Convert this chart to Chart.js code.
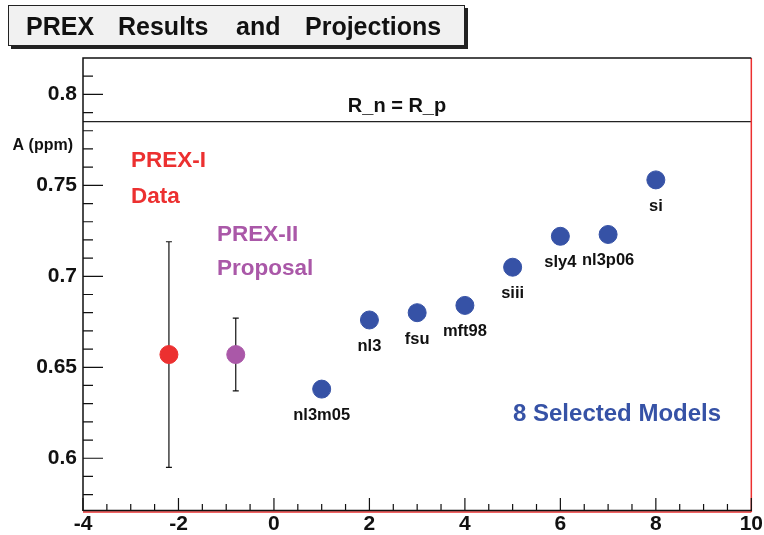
<!DOCTYPE html>
<html>
<head>
<meta charset="utf-8">
<script src="https://cdn.jsdelivr.net/npm/chart.js@4/dist/chart.umd.min.js"></script>
<style>
  html, body { margin: 0; padding: 0; background: #fff; }
  #wrap { width: 764px; height: 535px; }
</style>
</head>
<body>
<div id="wrap"><canvas id="prex-chart" width="764" height="535"></canvas></div>
<script>
// values
var modelNames = ['nl3m05', 'nl3', 'fsu', 'mft98', 'siii', 'sly4', 'nl3p06', 'si'];
var modelX = [1, 2, 3, 4, 5, 6, 7, 8];
var modelA = [0.638, 0.676, 0.680, 0.684, 0.705, 0.722, 0.723, 0.753];

var prex1X = [-2.2];
var prex1A = [0.657];
var prex1Err = [0.062];

var prex2X = [-0.8];
var prex2A = [0.657];
var prex2Err = [0.020];

var rnRp = 0.785;

var xTicks = [-4, -2, 0, 2, 4, 6, 8, 10];
var xTickLabels = ['-4', '-2', '0', '2', '4', '6', '8', '10'];
var yTicks = [0.6, 0.65, 0.7, 0.75, 0.8];
var yTickLabels = ['0.6', '0.65', '0.7', '0.75', '0.8'];

var RED = '#ec3030';
var PURPLE = '#aa58a8';
var BLUE = '#3652a6';
var FONT = '"Liberation Sans", Arial, sans-serif';

function pts(xs, ys) {
    return xs.map(function (x, i) { return { x: x, y: ys[i] }; });
}

// ROOT-like frame, inner ticks, error bars and texts
var rootStyle = {
    id: 'rootStyle',
    beforeDatasetsDraw: function (chart) {
        var c = chart.ctx, xs = chart.scales.x, ys = chart.scales.y;
        c.save();
        c.strokeStyle = '#111';
        c.lineWidth = 1.2;
        [[prex1X, prex1A, prex1Err], [prex2X, prex2A, prex2Err]].forEach(function (s) {
            s[0].forEach(function (x, i) {
                var px = xs.getPixelForValue(x);
                var top = ys.getPixelForValue(s[1][i] + s[2][i]);
                var bot = ys.getPixelForValue(s[1][i] - s[2][i]);
                c.beginPath();
                c.moveTo(px, top); c.lineTo(px, bot);
                c.moveTo(px - 3, top); c.lineTo(px + 3, top);
                c.moveTo(px - 3, bot); c.lineTo(px + 3, bot);
                c.stroke();
            });
        });
        c.restore();
    },
    afterDraw: function (chart) {
        var c = chart.ctx, a = chart.chartArea, xs = chart.scales.x, ys = chart.scales.y;
        c.save();

        // frame
        c.lineWidth = 1.5;
        c.strokeStyle = RED;
        c.beginPath();
        c.moveTo(a.right, a.top); c.lineTo(a.right, a.bottom + 1);
        c.moveTo(a.left, a.bottom + 1); c.lineTo(a.right, a.bottom + 1);
        c.stroke();
        c.strokeStyle = '#111';
        c.beginPath();
        c.moveTo(a.left, a.bottom); c.lineTo(a.left, a.top); c.lineTo(a.right, a.top);
        c.moveTo(a.left, a.bottom - 0.5); c.lineTo(a.right, a.bottom - 0.5);
        c.stroke();

        // inner ticks
        c.lineWidth = 1.2;
        c.beginPath();
        for (var v = -4; v <= 10.001; v += 0.5) {
            var px = xs.getPixelForValue(v);
            var major = Math.abs(v / 2 - Math.round(v / 2)) < 1e-6;
            c.moveTo(px, a.bottom);
            c.lineTo(px, a.bottom - (major ? 13 : 7));
        }
        for (var k = 58; k <= 81; k++) {
            var py = ys.getPixelForValue(k / 100);
            var maj = k % 5 === 0;
            c.moveTo(a.left, py);
            c.lineTo(a.left + (maj ? 20 : 10), py);
        }
        c.stroke();

        // texts
        c.textBaseline = 'alphabetic';
        c.fillStyle = '#111';
        c.font = 'bold 16px ' + FONT;
        c.textAlign = 'right';
        c.fillText('A (ppm)', 73, 150);

        c.textAlign = 'center';
        c.font = 'bold 20px ' + FONT;
        c.fillText('R_n = R_p', 397, 112);

        c.font = 'bold 16.5px ' + FONT;
        modelNames.forEach(function (n, i) {
            c.fillText(n, xs.getPixelForValue(modelX[i]), ys.getPixelForValue(modelA[i]) + 31);
        });

        c.textAlign = 'left';
        c.font = 'bold 22.5px ' + FONT;
        c.fillStyle = RED;
        c.fillText('PREX-I', 131, 167);
        c.fillText('Data', 131, 203);
        c.fillStyle = PURPLE;
        c.fillText('PREX-II', 217, 241);
        c.fillText('Proposal', 217, 275);
        c.fillStyle = BLUE;
        c.font = 'bold 24px ' + FONT;
        c.fillText('8 Selected Models', 513, 421);

        // title box
        c.fillStyle = '#222';
        c.fillRect(11, 8, 457, 41);
        c.fillStyle = '#f1f1f1';
        c.fillRect(8, 5, 457, 41);
        c.strokeStyle = '#222';
        c.lineWidth = 1;
        c.strokeRect(8.5, 5.5, 456, 40);
        c.fillStyle = '#111';
        c.font = 'bold 25px ' + FONT;
        c.fillText('PREX', 26, 35);
        c.fillText('Results', 118, 35);
        c.fillText('and', 236, 35);
        c.fillText('Projections', 305, 35);

        c.restore();
    }
};

var ctx = document.getElementById('prex-chart');
var chart = new Chart(ctx, {
    type: 'scatter',
    data: {
        datasets: [{
            label: 'R_n = R_p',
            type: 'line',
            data: [{ x: -4, y: rnRp }, { x: 10, y: rnRp }],
            borderColor: '#222',
            borderWidth: 1.3,
            pointRadius: 0,
            fill: false
        }, {
            label: 'PREX-I',
            data: pts(prex1X, prex1A),
            backgroundColor: RED,
            borderColor: RED,
            pointRadius: 9
        }, {
            label: 'PREX-II',
            data: pts(prex2X, prex2A),
            backgroundColor: PURPLE,
            borderColor: PURPLE,
            pointRadius: 9
        }, {
            label: 'Models',
            data: pts(modelX, modelA),
            backgroundColor: BLUE,
            borderColor: BLUE,
            pointRadius: 9
        }]
    },
    options: {
        responsive: false,
        animation: false,
        events: [],
        layout: { padding: { left: 0, right: 12, top: 58, bottom: 0 } },
        plugins: { legend: { display: false }, tooltip: { enabled: false } },
        scales: {
            x: {
                type: 'linear',
                min: -4,
                max: 10,
                afterBuildTicks: function (s) { s.ticks = xTicks.map(function (v) { return { value: v }; }); },
                afterFit: function (s) { s.height = 24; },
                grid: { display: false, drawTicks: false },
                border: { display: false },
                ticks: {
                    padding: 1,
                    color: '#111',
                    maxRotation: 0,
                    autoSkip: false,
                    font: { family: FONT, size: 21, weight: 'bold' },
                    callback: function (v) { return xTickLabels[xTicks.indexOf(v)]; }
                }
            },
            y: {
                type: 'linear',
                min: 0.571,
                max: 0.82,
                afterBuildTicks: function (s) { s.ticks = yTicks.map(function (v) { return { value: v }; }); },
                afterFit: function (s) { s.width = 83; },
                grid: { display: false, drawTicks: false },
                border: { display: false },
                ticks: {
                    padding: 6,
                    color: '#111',
                    autoSkip: false,
                    font: { family: FONT, size: 21, weight: 'bold' },
                    callback: function (v) {
                        var i = yTicks.findIndex(function (t) { return Math.abs(t - v) < 1e-9; });
                        return i < 0 ? '' : yTickLabels[i];
                    }
                }
            }
        }
    },
    plugins: [rootStyle]
});
</script>
</body>
</html>
